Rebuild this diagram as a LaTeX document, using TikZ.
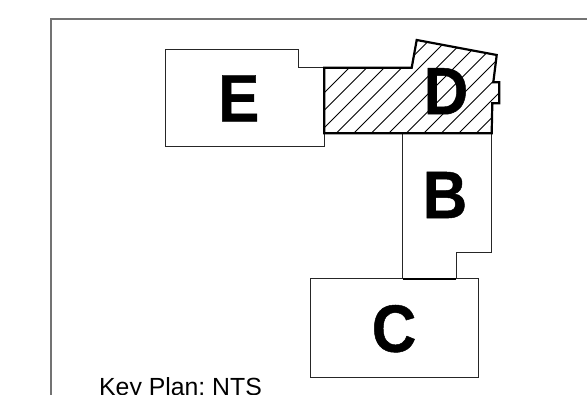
\documentclass[tikz,border=0pt]{standalone}
\usepackage{fontspec}
\setmainfont{Liberation Sans}
\frenchspacing
\tikzset{
  plan/.style={draw=black!85,line width=1pt,line join=miter},
  heavy/.style={draw=black,line width=2.2pt,line join=miter},
  framing/.style={draw=black!55,line width=1.5pt},
  hatchline/.style={draw=black,line width=0.8pt},
  letter/.style={font=\bfseries\fontsize{67}{67}\selectfont\addfontfeature{FakeBold=0.7,FakeStretch=0.92},text=black,inner sep=0pt,anchor=center},
  caption/.style={font=\fontsize{24.8}{25}\selectfont,text=black,inner sep=0pt,anchor=base west}
}
\begin{document}
\begin{tikzpicture}[x=1pt,y=-1pt]
\useasboundingbox (0,0) rectangle (587,395);
% frame
\draw[framing] (587,19) -- (51,19) -- (51,395);
% E
\draw[plan] (165.7,50) -- (298.3,50) -- (298.3,67.7) -- (324.3,67.7) -- (324.3,147) -- (165.7,147) -- cycle;
% B
\draw[plan] (402.7,133.3) -- (402.7,278.7) -- (456.3,278.7) -- (456.3,252.3) -- (491.7,252.3) -- (491.7,133.3);
% C
\draw[plan] (310.3,278.7) rectangle (478.7,378);
\draw[draw=black,line width=1.8pt] (402.7,278.7) -- (456.3,278.7);
% D hatch
\begin{scope}
\clip (324.3,67.7) -- (411.7,67.7) -- (416.7,40) -- (496.7,55) -- (493.3,82.3) -- (499.3,82.3) -- (499.3,103.3) -- (492.3,103.3) -- (491.7,133.3) -- (324.3,133.3) -- cycle;
\foreach \k in {0,...,14} {
  \pgfmathsetmacro{\s}{417+\k*17.5}
  \draw[hatchline] (\s-30,30) -- (\s-140,140);
}
\end{scope}
\draw[heavy] (324.3,67.7) -- (411.7,67.7) -- (416.7,40) -- (496.7,55) -- (493.3,82.3) -- (499.3,82.3) -- (499.3,103.3) -- (492.3,103.3) -- (491.7,133.3) -- (324.3,133.3) -- cycle;
% labels
\node[letter] (labelE) at (238.7,98.3) {E};
\node[letter] (labelD) at (446,91.2) {D};
\node[letter] (labelB) at (445,195) {B};
\node[letter] (labelC) at (394,328.7) {C};
\node[caption] (keyplan) at (99,395.5) {Key Plan: NTS};
\end{tikzpicture}
\end{document}
